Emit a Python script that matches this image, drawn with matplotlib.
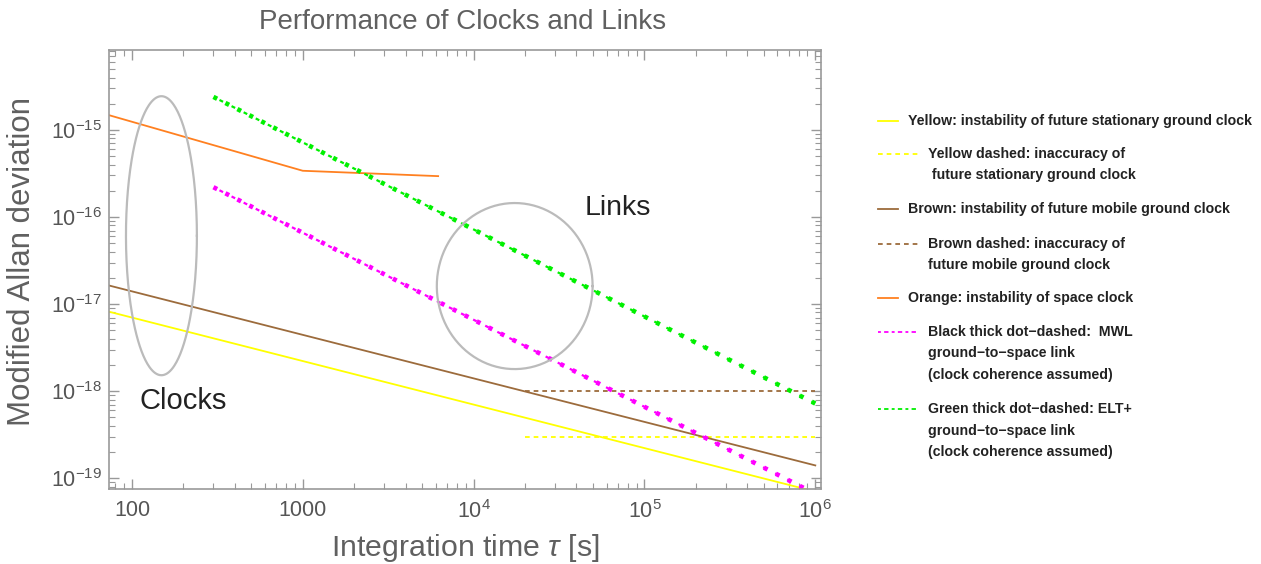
import numpy as np
import matplotlib
matplotlib.use("Agg")
import matplotlib.pyplot as plt
from matplotlib.lines import Line2D
from matplotlib.ticker import LogLocator, FixedLocator, FixedFormatter, NullFormatter

plt.rcParams['font.family'] = ['Liberation Sans', 'DejaVu Sans']
plt.rcParams['mathtext.fontset'] = 'custom'
plt.rcParams['mathtext.rm'] = 'Liberation Sans'
plt.rcParams['mathtext.it'] = 'Liberation Sans:italic'

# ---- data ----
tau_clock = np.array([70.0, 1.0e6])
yellow_coef = 7.0e-17          # sigma = coef / sqrt(tau)
brown_coef = 1.4e-16

tau_orange = [70, 1000, 6200]
sig_orange = [1.52e-15, 3.4e-16, 2.95e-16]

tau_link = np.array([300.0, 1.0e6])
green_coef = 7.2e-13           # sigma = coef / tau
magenta_coef = 6.6e-14

tau_acc = [2.0e4, 1.0e6]
yellow_acc = 3.0e-19
brown_acc = 1.0e-18

# ellipses (centre, half-axes in decades)
clocks_ell = (148.8, 6.1e-17, 0.2076, 1.603)
links_ell = (1.74e4, 1.61e-17, 0.456, 0.954)

x_ticks = [100, 1000, 1e4, 1e5, 1e6]
x_ticklabels = ['100', '1000', r'$10^{4}$', r'$10^{5}$', r'$10^{6}$']
y_ticks = [1e-19, 1e-18, 1e-17, 1e-16, 1e-15]
y_ticklabels = [r'$10^{-19}$', r'$10^{-18}$', r'$10^{-17}$', r'$10^{-16}$', r'$10^{-15}$']

YELLOW = '#ffff00'
BROWN = '#9c6b3c'
ORANGE = '#ff8020'
MAGENTA = '#ff00ff'
GREEN = '#00f000'
GRAY = '#bbbbbb'

W, H = 1261, 564
fig = plt.figure(figsize=(W / 100, H / 100), dpi=100)
ax = fig.add_axes([109 / W, 1 - 489 / H, (821 - 109) / W, (489 - 50) / H])
ax.set_xscale('log')
ax.set_yscale('log')


def dot_dashed(x, y, color):
    # thick square dots with thin dashes in between (Mathematica DotDashed look)
    ax.plot(x, y, color=color, lw=3.3, ls=(0, (0.9, 2.03)), dash_capstyle='butt')
    ax.plot(x, y, color=color, lw=1.6, ls=(3.05, (1.8, 4.3)), dash_capstyle='butt')


ax.plot(tau_clock, yellow_coef / np.sqrt(tau_clock), color=YELLOW, lw=1.3)
ax.plot(tau_acc, [yellow_acc, yellow_acc], color=YELLOW, lw=1.3, ls=(0, (2.6, 2.2)))
ax.plot(tau_clock, brown_coef / np.sqrt(tau_clock), color=BROWN, lw=1.3)
ax.plot(tau_acc, [brown_acc, brown_acc], color=BROWN, lw=1.3, ls=(0, (2.6, 2.2)))
ax.plot(tau_orange, sig_orange, color=ORANGE, lw=1.3)
dot_dashed(tau_link, magenta_coef / tau_link, MAGENTA)
dot_dashed(tau_link, green_coef / tau_link, GREEN)

th = np.linspace(0, 2 * np.pi, 300)
for cx, cy, a, b in (clocks_ell, links_ell):
    ax.plot(10 ** (np.log10(cx) + a * np.cos(th)), 10 ** (np.log10(cy) + b * np.sin(th)),
            color=GRAY, lw=1.6)

ax.text(200, 7.7e-19, 'Clocks', fontsize=21, color='#222222', ha='center', va='center')
ax.text(7.0e4, 1.27e-16, 'Links', fontsize=20.5, color='#222222', ha='center', va='center')

ax.set_xlim(73.4, 1.08e6)
ax.set_ylim(7.5e-20, 8.3e-15)

ax.xaxis.set_major_locator(FixedLocator(x_ticks))
ax.xaxis.set_major_formatter(FixedFormatter(x_ticklabels))
ax.yaxis.set_major_locator(FixedLocator(y_ticks))
ax.yaxis.set_major_formatter(FixedFormatter(y_ticklabels))
for axis in (ax.xaxis, ax.yaxis):
    axis.set_minor_locator(LogLocator(base=10, subs=np.arange(2, 10), numticks=20))
    axis.set_minor_formatter(NullFormatter())
ax.tick_params(which='both', direction='in', top=True, right=True, color='#999999',
               labelcolor='#555555', labelsize=15.5)
ax.tick_params(which='major', length=7, width=1)
ax.tick_params(which='minor', length=4, width=0.8)
ax.tick_params(axis='x', pad=8)
ax.tick_params(axis='y', pad=5)
for s in ax.spines.values():
    s.set_color('#999999')
    s.set_linewidth(1.2)

fig.text(463 / W, 1 - 22 / H, 'Performance of Clocks and Links', fontsize=20,
         color='#606060', ha='center', va='center')
fig.text(465 / W, 1 - 548 / H, r'Integration time $\mathit{\tau}$ [s]', fontsize=21.8,
         color='#606060', ha='center', va='center')
fig.text(22 / W, 1 - 261 / H, 'Modified Allan deviation', fontsize=22.5, color='#606060',
         ha='center', va='center', rotation=90)

# ---- legend, drawn at the right ----
solid = '-'
dashed = (0, (2.6, 2.2))
dd = (0, (1.6, 1.8, 2.4, 1.8))
legend_rows = [
    (YELLOW, solid, 121, 20, ['Yellow: instability of future stationary ground clock']),
    (YELLOW, dashed, 154, 40, ['Yellow dashed: inaccuracy of', ' future stationary ground clock']),
    (BROWN, solid, 209, 20, ['Brown: instability of future mobile ground clock']),
    (BROWN, dashed, 244, 40, ['Brown dashed: inaccuracy of', 'future mobile ground clock']),
    (ORANGE, solid, 298, 20, ['Orange: instability of space clock']),
    (MAGENTA, dd, 332, 40, ['Black thick dot\u2212dashed:  MWL', 'ground\u2212to\u2212space link',
                            '(clock coherence assumed)']),
    (GREEN, dd, 409, 40, ['Green thick dot\u2212dashed: ELT+', 'ground\u2212to\u2212space link',
                          '(clock coherence assumed)']),
]
x0 = 878
for color, ls, yrow, hl, texts in legend_rows:
    fig.add_artist(Line2D([x0 / W, (x0 + hl) / W], [1 - yrow / H, 1 - yrow / H],
                          color=color, lw=1.3, ls=ls))
    for i, t in enumerate(texts):
        fig.text((x0 + hl + 10) / W, 1 - (yrow + 21.5 * i) / H, t, fontsize=10.2,
                 fontweight='bold', color='#222222', ha='left', va='center')

fig.savefig('out.png', dpi=100)
